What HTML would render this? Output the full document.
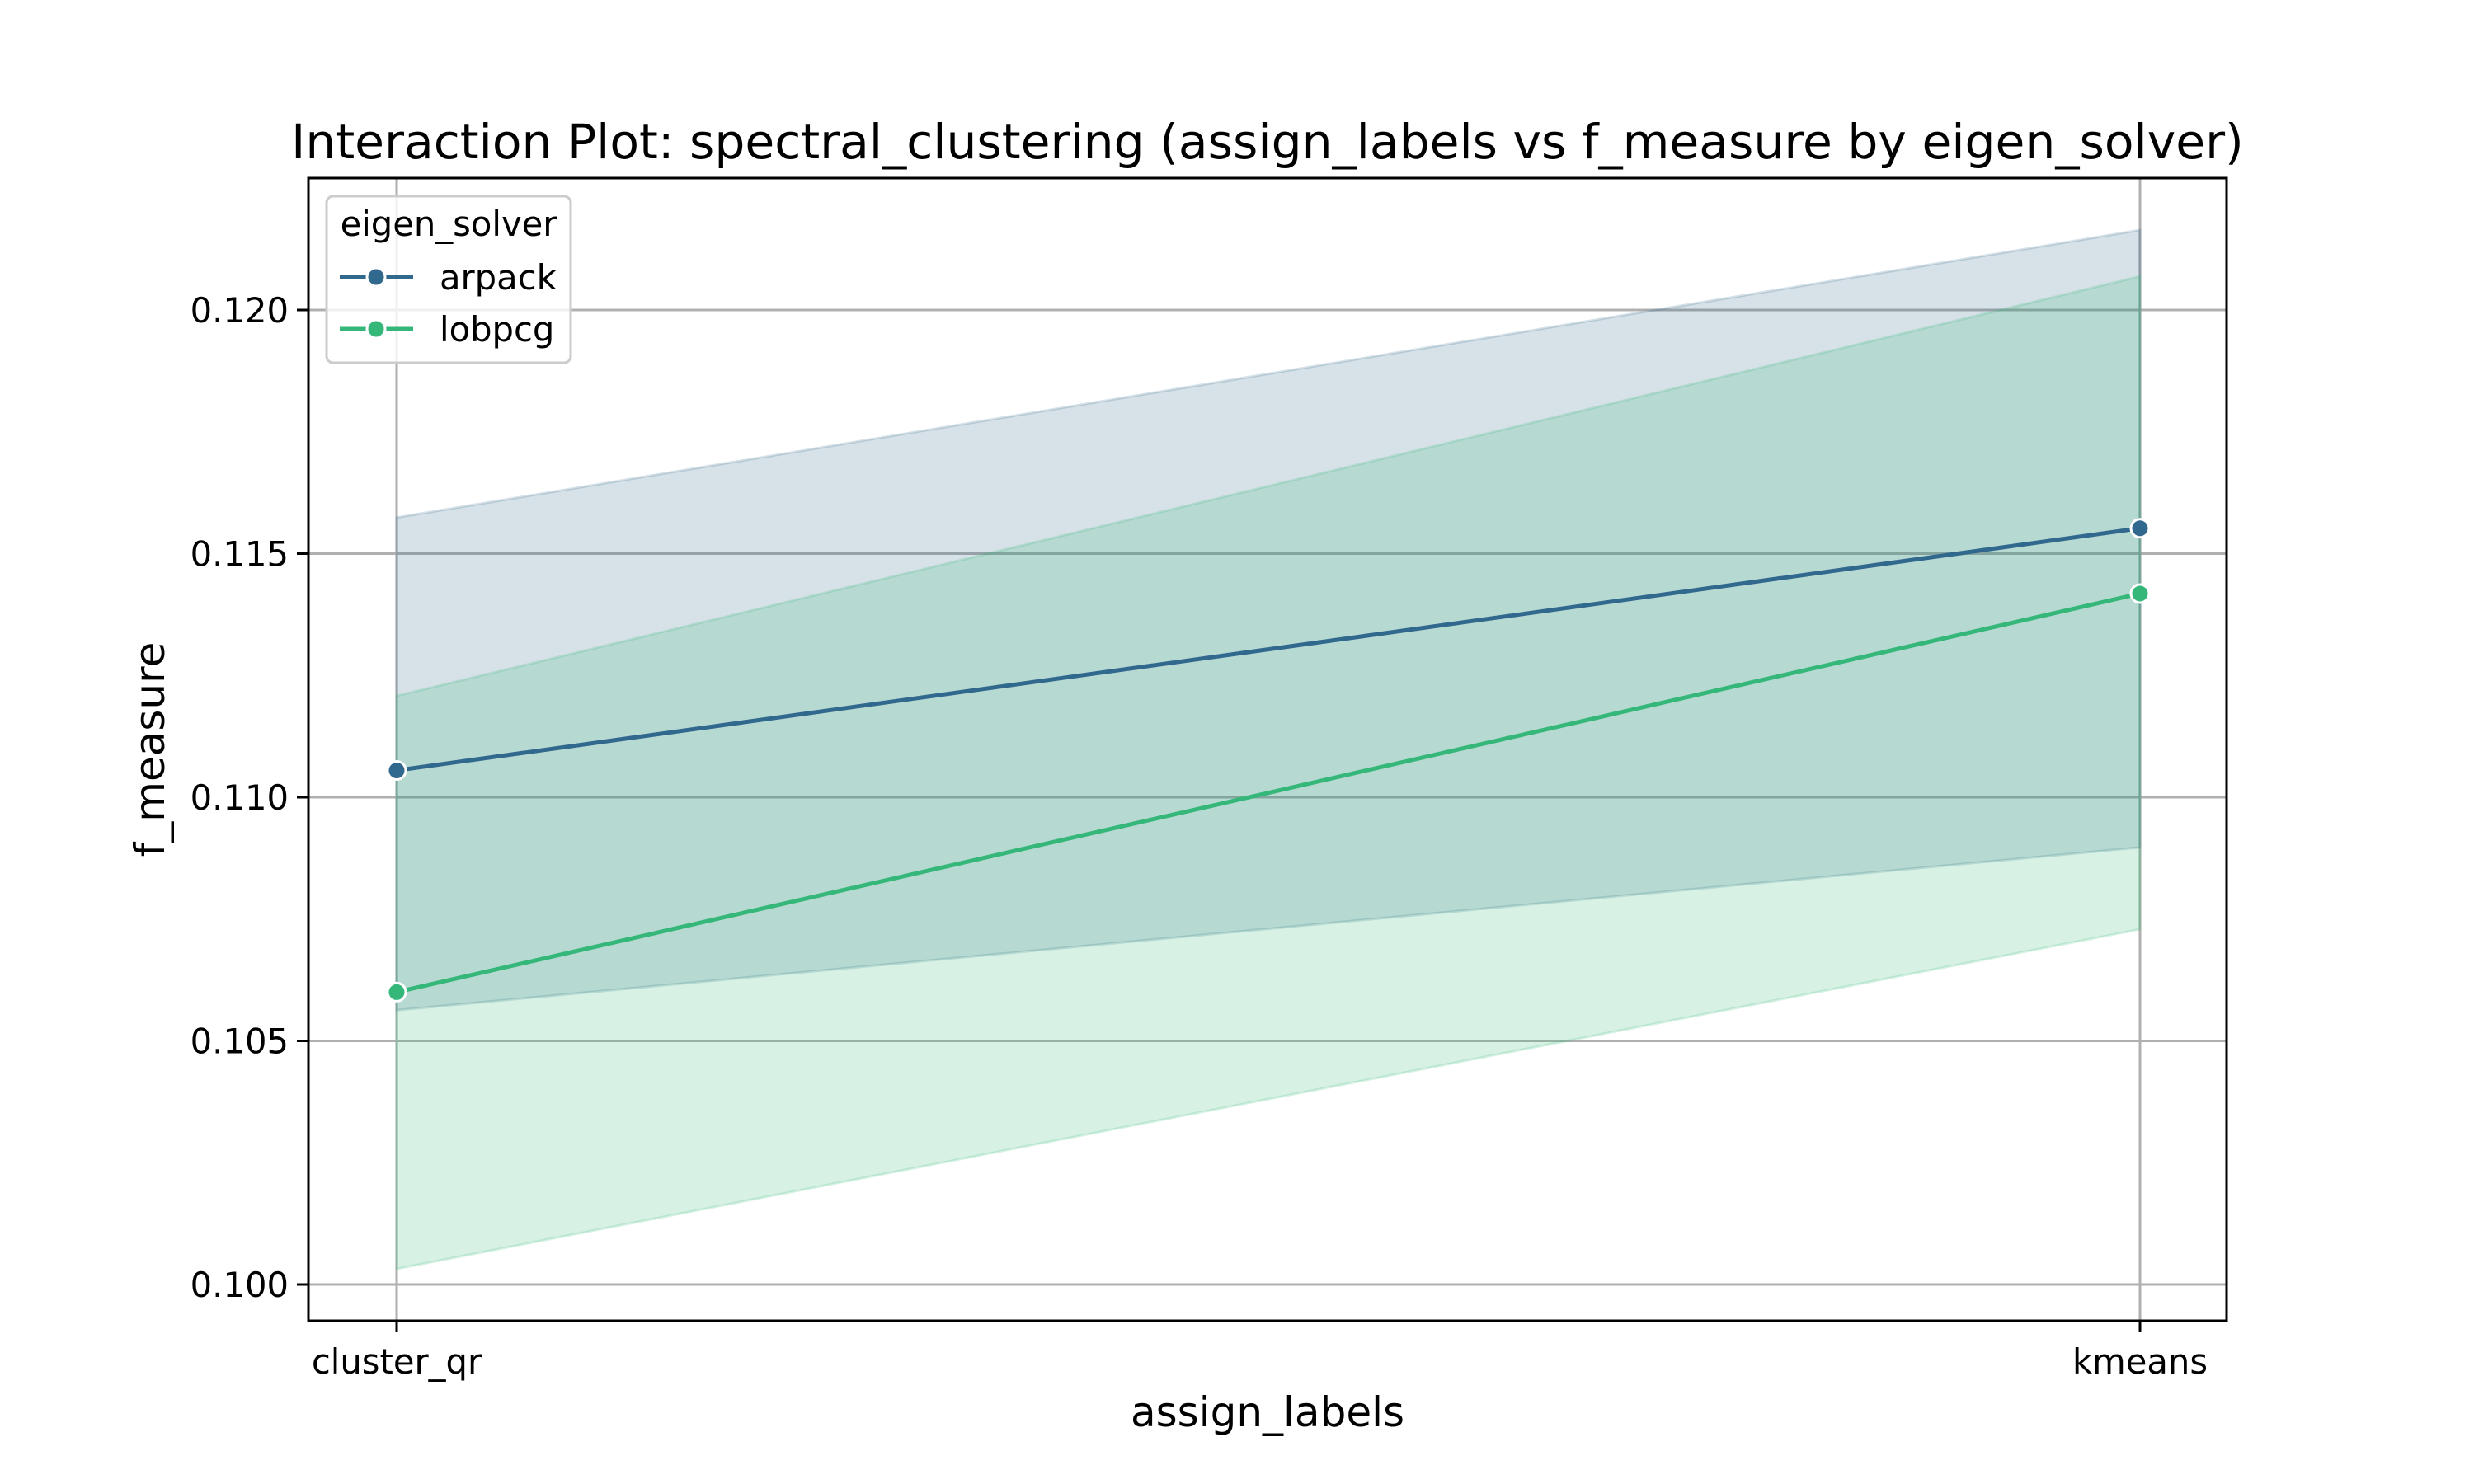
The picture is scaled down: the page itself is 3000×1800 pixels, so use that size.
<!DOCTYPE html>
<html><head><meta charset="utf-8"><style>
html,body{margin:0;padding:0;background:#fff;}
svg{display:block;font-family:"DejaVu Sans","Liberation Sans",sans-serif;}
</style></head><body>
<svg id="chart" width="3000" height="1800" viewBox="0 0 3000 1800">
<rect width="3000" height="1800" fill="#fff"/>
<g id="grid"></g><g id="bands"></g><g id="lines"></g><g id="axes"></g><g id="legend"></g>
</svg>
<script>
const categories = ["cluster_qr", "kmeans"];
const seriesNames = ["arpack", "lobpcg"];
const arpackMean = [0.11055, 0.11552];
const arpackLow = [0.10563, 0.10897];
const arpackHigh = [0.11574, 0.12164];
const lobpcgMean = [0.10600, 0.11418];
const lobpcgLow = [0.10032, 0.10729];
const lobpcgHigh = [0.11208, 0.12069];
const yTicks = [0.100, 0.105, 0.110, 0.115, 0.120];
const yTickLabels = ["0.100", "0.105", "0.110", "0.115", "0.120"];

const NS = "http://www.w3.org/2000/svg";
const L = 374, R = 2700, T = 216, B = 1602;
const xPos = [481, 2595];
function xs(i){ return xPos[0] + (xPos[1]-xPos[0]) * i / (categories.length-1); }
function ys(v){ return 1558 - (v - 0.100) / 0.005 * 295.5; }
function mk(tag, attrs, parent){ const e = document.createElementNS(NS, tag); for (const k in attrs) e.setAttribute(k, attrs[k]); parent.appendChild(e); return e; }

const grid = document.getElementById('grid');
yTicks.forEach((t, i) => {
  const g = mk('line', {x1:L, x2:R, y1:ys(t), y2:ys(t), stroke:'#b0b0b0', 'stroke-width':3}, grid);
  
  
});
categories.forEach((c, i) => {
  const g = mk('line', {x1:xs(i), x2:xs(i), y1:T, y2:B, stroke:'#b0b0b0', 'stroke-width':3}, grid);
  
  
});

const series = [
  {name:'arpack', color:'#31688e', mean:arpackMean, low:arpackLow, high:arpackHigh},
  {name:'lobpcg', color:'#35b779', mean:lobpcgMean, low:lobpcgLow, high:lobpcgHigh}
];
const bands = document.getElementById('bands');
const lines = document.getElementById('lines');
series.forEach(s => {
  let pts = s.high.map((v,i)=>xs(i)+','+ys(v));
  pts = pts.concat(s.low.map((v,i)=>xs(i)+','+ys(v)).reverse());
  const p = mk('polygon', {points:pts.join(' '), fill:s.color, 'fill-opacity':0.2, stroke:s.color, 'stroke-opacity':0.2, 'stroke-width':3}, bands);
  
  
});
series.forEach(s => {
  const pl = mk('polyline', {points:s.mean.map((v,i)=>xs(i)+','+ys(v)).join(' '), fill:'none', stroke:s.color, 'stroke-width':5}, lines);
  
  
  s.mean.forEach((v,i) => {
    const c = mk('circle', {cx:xs(i), cy:ys(v), r:11, fill:s.color, stroke:'#fff', 'stroke-width':3}, lines);
    
    
  });
});

const axes = document.getElementById('axes');
const frame = mk('rect', {x:L, y:T, width:R-L, height:B-T, fill:'none', stroke:'#000', 'stroke-width':3}, axes);


yTicks.forEach((t, i) => {
  mk('line', {x1:L-14, x2:L, y1:ys(t), y2:ys(t), stroke:'#000', 'stroke-width':3}, axes);
  const tx = mk('text', {x:L-24, y:ys(t)+15, 'text-anchor':'end', 'font-size':41.7, fill:'#000'}, axes);
  tx.textContent = yTickLabels[i];
  
  
});
categories.forEach((c, i) => {
  mk('line', {x1:xs(i), x2:xs(i), y1:B, y2:B+14, stroke:'#000', 'stroke-width':3}, axes);
  const tx = mk('text', {x:xs(i), y:B+64, 'text-anchor':'middle', 'font-size':41.7, fill:'#000'}, axes);
  tx.textContent = c;
  
  
});
const title = mk('text', {x:(L+R)/2, y:192, 'text-anchor':'middle', 'font-size':58.3, fill:'#000'}, axes);
title.textContent = 'Interaction Plot: spectral_clustering (assign_labels vs f_measure by eigen_solver)';


const xl = mk('text', {x:(L+R)/2, y:1730, 'text-anchor':'middle', 'font-size':50, fill:'#000'}, axes);
xl.textContent = 'assign_labels';


const yl = mk('text', {x:0, y:0, 'text-anchor':'middle', 'font-size':50, fill:'#000', transform:'translate(199,909) rotate(-90)'}, axes);
yl.textContent = 'f_measure';



const lg = document.getElementById('legend');


mk('rect', {x:396, y:238, width:296, height:202, rx:8, fill:'#fff', 'fill-opacity':0.8, stroke:'#cccccc', 'stroke-width':3}, lg);
const lt = mk('text', {x:544, y:286, 'text-anchor':'middle', 'font-size':41.7, fill:'#000'}, lg);
lt.textContent = 'eigen_solver';


series.forEach((s, i) => {
  const y = 336 + i*63;
  const g = mk('g', {}, lg);
  
  
  mk('line', {x1:412, x2:501, y1:y, y2:y, stroke:s.color, 'stroke-width':5}, g);
  mk('circle', {cx:456, cy:y, r:11, fill:s.color, stroke:'#fff', 'stroke-width':3}, g);
  const t = mk('text', {x:533, y:y+15, 'font-size':41.7, fill:'#000'}, g);
  t.textContent = s.name;
});
</script>
</body></html>
